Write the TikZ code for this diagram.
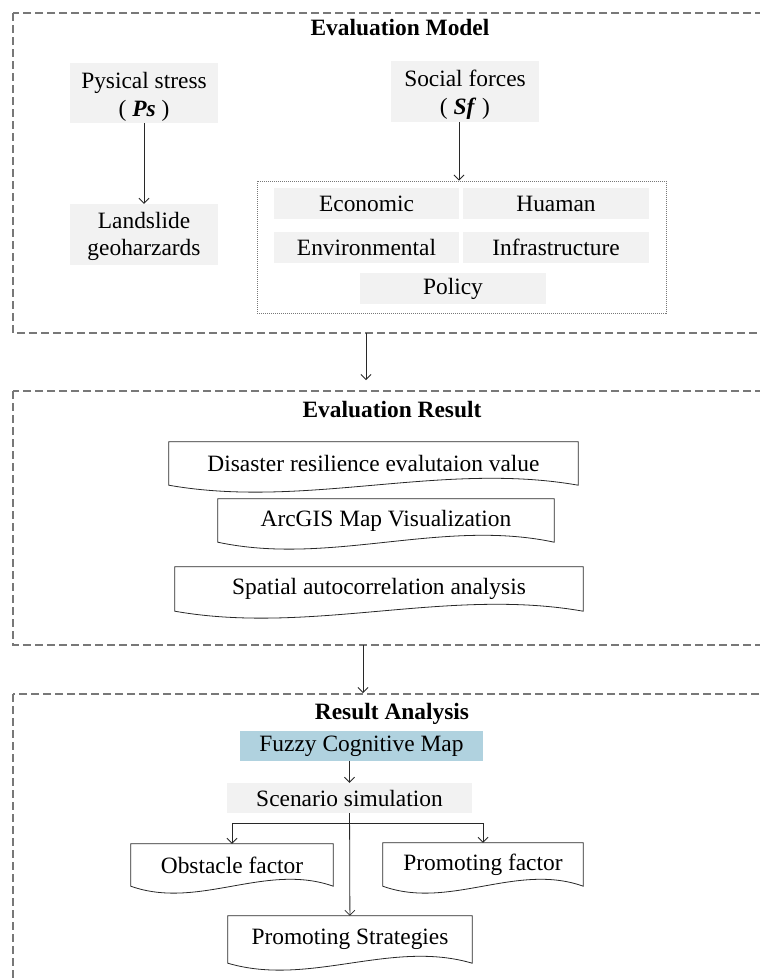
\documentclass[tikz,border=0pt]{standalone}
\usepackage{fontspec}
\setmainfont{Liberation Serif}
\usetikzlibrary{arrows.meta,calc,backgrounds}
\definecolor{boxgray}{RGB}{242,242,242}
\definecolor{fcmblue}{RGB}{176,210,223}
\definecolor{framegray}{RGB}{120,120,120}
\definecolor{linedark}{RGB}{40,40,40}
\begin{document}
\begin{tikzpicture}[x=1pt,y=-1pt,
  every node/.style={font=\fontsize{23.4}{27.6}\selectfont, align=center, inner sep=0pt},
  frame/.style={draw=framegray, line width=1.2pt, dash pattern=on 8pt off 4pt},
  grpbox/.style={draw=framegray, line width=0.9pt, dash pattern=on 1pt off 1pt},
  graybox/.style={fill=boxgray, minimum width=#1, minimum height=30pt},
  doc/.style={draw=linedark, line width=0.8pt, fill=white},
  arr/.style={draw=linedark, line width=0.8pt, -{Straight Barb[length=5pt,width=10pt]}},
  title/.style={font=\fontsize{23.4}{27.6}\selectfont\bfseries, anchor=base}
]
\useasboundingbox (0,0) rectangle (760,978);
\begin{pgfonlayer}{background}
\fill[white] (0,0) rectangle (760,978);
\end{pgfonlayer}
\begin{scope}
\clip (0,0) rectangle (760,978);
% frames
\draw[frame] (13,13) rectangle (800,333);
\draw[frame] (13,391) rectangle (800,645);
\draw[frame] (13,694) rectangle (800,1060);
\end{scope}

% titles
\node[title] (t1) at (400,35) {Evaluation Model};
\node[title] (t2) at (392,417) {Evaluation Result};
\node[title] (t3) at (392,719) {Result Analysis};

% Evaluation model
\node[graybox=148pt, minimum height=60pt] (ps) at (144,93) {\rule{0pt}{24pt}Pysical stress\\( \textbf{\textit{Ps}} )};
\node[graybox=148pt, minimum height=61pt] (ls) at (144,234.5) {\rule{0pt}{20pt}Landslide\\geoharzards};
\node[graybox=148pt, minimum height=61pt] (sf) at (465,91.5) {\rule{0pt}{23pt}Social forces\\( \textbf{\textit{Sf}} )};

\node[grpbox, minimum width=409pt, minimum height=132pt] (grp) at (461.5,247) {};
\node[graybox=185pt, minimum height=31pt] (eco) at (366.5,203.5) {Economic};
\node[graybox=186pt, minimum height=31pt] (hum) at (556,203.5) {Huaman};
\node[graybox=185pt, minimum height=31pt] (env) at (366.5,247.5) {Environmental};
\node[graybox=186pt, minimum height=31pt] (inf) at (556,247.5) {Infrastructure};
\node[graybox=186pt, minimum height=31pt] (pol) at (453,288.5) {Policy};

\draw[arr] (ps) -- (ls);
\draw[arr] ([xshift=-6pt]sf.south) -- ([xshift=-6pt]sf.south |- grp.north);

\coordinate (a1s) at (366,333);
\coordinate (a1e) at (366,380);
\draw[arr] (a1s) -- (a1e);

% Evaluation result
\node[minimum width=409pt, minimum height=43pt] (d1) at (373.5,463.5) {Disaster resilience evalutaion value};
\node[minimum width=336pt, minimum height=43pt] (d2) at (386,520.5) {ArcGIS Map Visualization};
\node[minimum width=408pt, minimum height=44pt] (d3) at (379,589) {Spatial autocorrelation analysis};

\coordinate (a2s) at (363,645);
\coordinate (a2e) at (363,693);
\draw[arr] (a2s) -- (a2e);

% Result analysis
\node[fill=fcmblue, minimum width=243pt, minimum height=30pt] (fcm) at (361.5,746) {Fuzzy Cognitive Map};
\node[graybox=245pt] (ss) at (349.5,798) {Scenario simulation};
\node[minimum width=202pt, minimum height=42pt] (ob) at (232,865) {Obstacle factor};
\node[minimum width=200pt, minimum height=43pt] (pf) at (483,864.5) {Promoting factor};
\node[minimum width=244pt, minimum height=47pt] (st) at (350,939.5) {Promoting Strategies};

% document outlines (behind text)
\begin{pgfonlayer}{background}
\foreach \n in {d1,d2,d3,ob,pf,st}{
  \path[doc] (\n.north west) -- (\n.north east) -- (\n.south east)
    .. controls ($(\n.south east)!1/3!(\n.south west)+(0,-24)$) and ($(\n.south east)!2/3!(\n.south west)+(0,24)$) .. (\n.south west) -- cycle;
}
\end{pgfonlayer}

\draw[arr] (fcm.south -| ss.north) -- (ss.north);
\draw[arr] (ss) -- (st);
\coordinate (br) at (350,823);
\draw[arr] (br) -| (ob.north);
\draw[arr] (br) -| (pf.north);
\end{tikzpicture}
\end{document}
